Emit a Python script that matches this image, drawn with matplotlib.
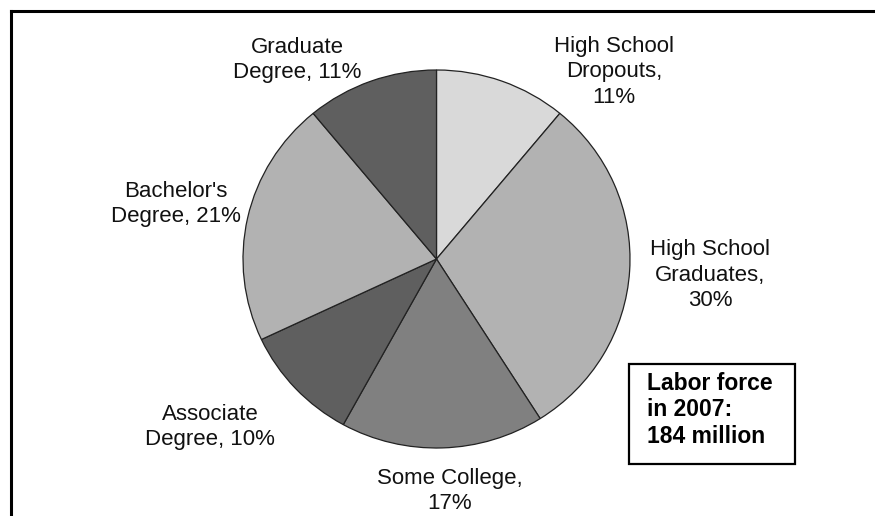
import matplotlib.pyplot as plt
from matplotlib.lines import Line2D
from matplotlib.patches import Rectangle

plt.rcParams['font.family'] = ['Liberation Sans', 'DejaVu Sans']

# share of the 2007 labor force by education level
labels = ["High School\nDropouts,\n11%", "High School\nGraduates,\n30%",
          "Some College,\n17%", "Associate\nDegree, 10%",
          "Bachelor's\nDegree, 21%", "Graduate\nDegree, 11%"]
shares = [11, 30, 17, 10, 21, 11]
colors = ["#d9d9d9", "#b2b2b2", "#808080", "#5f5f5f", "#b2b2b2", "#5f5f5f"]

# label centres in pixels (x from left, y from top)
label_pos = [(614, 72), (710, 275), (450, 491), (210, 427), (176, 204), (297, 60)]

W, H = 875, 516
fig = plt.figure(figsize=(W / 100, H / 100), dpi=100)


def px(x, y):
    return x / W, 1 - y / H


# pie is a touch wider than tall
rx, ry, cx, cy = 193.5, 189.0, 436.5, 259.0
ax = fig.add_axes([(cx - 1.1 * rx) / W, (H - cy - 1.1 * ry) / H,
                   2.2 * rx / W, 2.2 * ry / H])
ax.pie(shares, colors=colors, startangle=90, counterclock=False,
       wedgeprops=dict(edgecolor="#222222", linewidth=0.9))
ax.set_aspect('auto')
ax.set_xlim(-1.1, 1.1)
ax.set_ylim(-1.1, 1.1)
ax.axis('off')

for text, (x, y) in zip(labels, label_pos):
    fig.text(*px(x, y), text, ha='center', va='center', fontsize=16,
             linespacing=1.3, color="#111111")

# summary box
x0, y0 = px(629, 464)
x1, y1 = px(795, 364)
fig.patches.append(Rectangle((x0, y0), x1 - x0, y1 - y0, transform=fig.transFigure,
                             fill=False, edgecolor="black", linewidth=1.6))
fig.text(*px(647, 410), "Labor force\nin 2007:\n184 million", ha='left', va='center',
         fontsize=16.5, fontweight='bold', linespacing=1.2)

# outer frame (top and left edges)
fig.lines.append(Line2D([11 / W, 1], [1 - 10.5 / H] * 2, transform=fig.transFigure,
                        color="black", linewidth=2.2))
fig.lines.append(Line2D([11 / W] * 2, [0, 1 - 10.5 / H], transform=fig.transFigure,
                        color="black", linewidth=2.2))

fig.savefig("out.png", dpi=100, facecolor="white")
